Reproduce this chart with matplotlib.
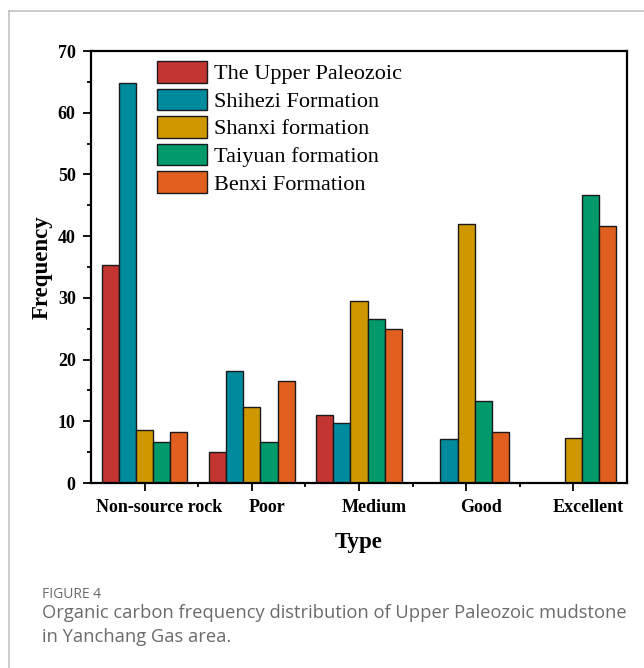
import numpy as np
import matplotlib.pyplot as plt
from matplotlib.lines import Line2D
from matplotlib.ticker import MultipleLocator, FixedLocator
from matplotlib.transforms import ScaledTranslation

# TOC grade classes and frequency (%) per stratigraphic unit
types = ["Non-source rock", "Poor", "Medium", "Good", "Excellent"]
upper_paleozoic = [35.3, 5.1, 11.0, 0.0, 0.0]
shihezi = [64.8, 18.1, 9.8, 7.1, 0.0]
shanxi = [8.6, 12.3, 29.5, 41.9, 7.3]
taiyuan = [6.6, 6.6, 26.6, 13.3, 46.6]
benxi = [8.3, 16.5, 24.9, 8.3, 41.6]

names = ["The Upper Paleozoic", "Shihezi Formation", "Shanxi formation",
         "Taiyuan formation", "Benxi Formation"]
colors = ["#C23531", "#008A9E", "#CF9800", "#009A6B", "#E2601F"]

DPI = 100
fig = plt.figure(figsize=(6.44, 6.68), dpi=DPI)
ax = fig.add_axes([91 / 644, 185 / 668, 536 / 644, 432 / 668])

x = np.arange(len(types))
w = 0.16
series = [upper_paleozoic, shihezi, shanxi, taiyuan, benxi]
for i, (vals, name, c) in enumerate(zip(series, names, colors)):
    ax.bar(x + (i - 2) * w, vals, w, color=c, edgecolor="#1a1a1a",
           linewidth=1.0, label=name)

ax.set_xlim(-0.5, 4.5)
ax.set_ylim(0, 70)
ax.yaxis.set_major_locator(MultipleLocator(10))
ax.yaxis.set_minor_locator(MultipleLocator(5))
ax.set_xticks(x)
ax.set_xticklabels([])
ax.xaxis.set_minor_locator(FixedLocator(x[:-1] + 0.5))

serif = "Liberation Serif"
for lab in ax.get_yticklabels():
    lab.set_fontfamily(serif)
    lab.set_fontweight("bold")
    lab.set_fontsize(13)

# category names sit a little right of their tick marks
px = lambda dx, dy: ScaledTranslation(dx / DPI, dy / DPI, fig.dpi_scale_trans)
for xi, t in zip(x, types):
    ax.text(xi, 0, t, transform=ax.get_xaxis_transform() + px(15, -29),
            ha="center", va="baseline", fontfamily=serif, fontweight="bold",
            fontsize=13)

ax.tick_params(which="major", direction="out", length=6, width=1.3, pad=5)
ax.tick_params(which="minor", direction="out", length=3, width=1.3)
for s in ax.spines.values():
    s.set_linewidth(1.6)

ax.text(0.5, 0, "Type", transform=ax.transAxes + px(0, -65), ha="center",
        va="baseline", fontfamily=serif, fontweight="bold", fontsize=16.5)
ax.text(0, 0.5, "Frequency", transform=ax.transAxes + px(-48.5, 0), ha="center",
        va="center", rotation=90, fontfamily=serif, fontweight="bold", fontsize=16.5)

ax.legend(loc="upper left", bbox_to_anchor=(0.123, 0.977), frameon=False,
          prop={"family": serif, "size": 16}, handlelength=2.25,
          handleheight=1.12, labelspacing=0.19, handletextpad=0.3,
          borderaxespad=0, borderpad=0)

# page frame and caption
grey = "#c4c4c4"
fig.add_artist(Line2D([9 / 644, 9 / 644], [0, 1 - 11 / 668], color=grey, lw=1.2,
                      transform=fig.transFigure))
fig.add_artist(Line2D([9 / 644, 1], [1 - 11 / 668, 1 - 11 / 668], color=grey, lw=1.2,
                      transform=fig.transFigure))
cap = "#6b6b6b"
fig.text(42 / 644, 1 - 598 / 668, "FIGURE 4", fontfamily="Open Sans", fontsize=10,
         color=cap, va="baseline")
fig.text(42 / 644, 1 - 618 / 668,
         "Organic carbon frequency distribution of Upper Paleozoic mudstone",
         fontfamily="Open Sans", fontsize=13.25, color=cap, va="baseline")
fig.text(42 / 644, 1 - 642 / 668, "in Yanchang Gas area.",
         fontfamily="Open Sans", fontsize=13.25, color=cap, va="baseline")

fig.savefig("out.png", dpi=DPI)
